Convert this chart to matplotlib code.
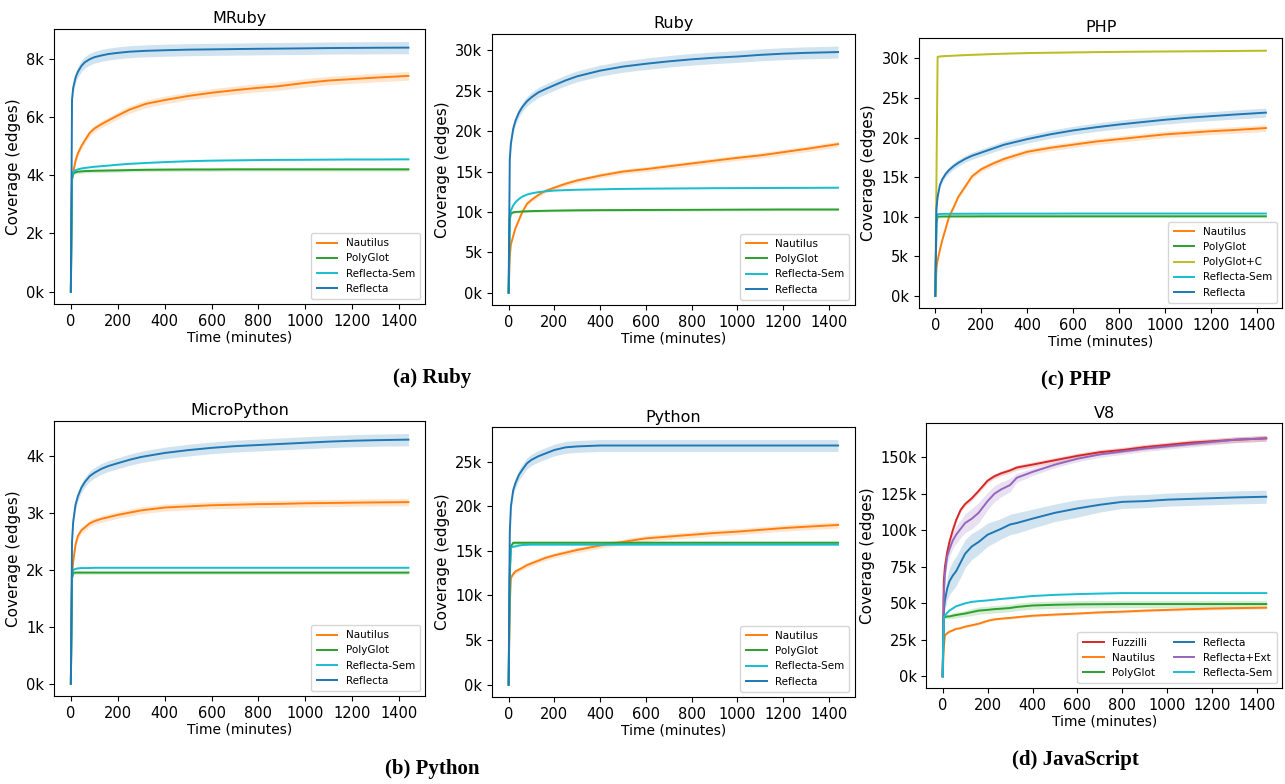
import matplotlib
matplotlib.use("Agg")
import matplotlib.pyplot as plt
from matplotlib.ticker import FuncFormatter, MultipleLocator
import numpy as np

# ---------------- data ----------------
# MRuby
mruby_t = [0, 5, 10, 20, 30, 45, 60, 80, 100, 130, 160, 200, 250, 320, 400, 500, 600, 700, 800, 880, 1000, 1100, 1200, 1300, 1440]
mruby_reflecta = [0, 6600, 7000, 7350, 7550, 7750, 7880, 7980, 8050, 8110, 8160, 8200, 8240, 8270, 8290, 8310, 8320, 8330, 8340, 8345, 8355, 8365, 8370, 8375, 8380]
mruby_nautilus = [0, 3800, 4100, 4500, 4750, 5000, 5200, 5450, 5600, 5750, 5880, 6050, 6250, 6450, 6580, 6720, 6830, 6920, 7000, 7050, 7170, 7250, 7300, 7350, 7410]
mruby_sem = [0, 3900, 4100, 4170, 4200, 4230, 4250, 4270, 4290, 4310, 4330, 4360, 4390, 4420, 4450, 4480, 4500, 4510, 4520, 4525, 4530, 4535, 4540, 4540, 4545]
mruby_polyglot = [0, 3900, 4050, 4100, 4120, 4130, 4140, 4145, 4150, 4155, 4160, 4165, 4175, 4185, 4190, 4195, 4195, 4200, 4200, 4200, 4200, 4200, 4200, 4200, 4200]

# Ruby
ruby_t = [0, 5, 10, 20, 30, 45, 60, 80, 100, 130, 160, 200, 250, 300, 400, 500, 600, 700, 800, 900, 1000, 1100, 1200, 1300, 1440]
ruby_reflecta = [0, 16500, 18500, 20300, 21300, 22300, 23000, 23700, 24200, 24800, 25200, 25700, 26300, 26800, 27500, 28000, 28350, 28650, 28900, 29100, 29250, 29450, 29600, 29700, 29800]
ruby_nautilus = [0, 4500, 6000, 7000, 8000, 9000, 10000, 11000, 11500, 12100, 12600, 13000, 13500, 13900, 14500, 15000, 15300, 15650, 16000, 16350, 16700, 17000, 17400, 17800, 18400]
ruby_sem = [0, 9500, 10200, 10800, 11200, 11600, 11900, 12150, 12300, 12450, 12550, 12650, 12700, 12750, 12800, 12850, 12880, 12900, 12920, 12940, 12950, 12960, 12970, 12980, 13000]
ruby_polyglot = [0, 9000, 9800, 9950, 10000, 10020, 10050, 10080, 10100, 10120, 10140, 10160, 10180, 10200, 10220, 10230, 10240, 10250, 10260, 10270, 10280, 10290, 10300, 10300, 10300]

# PHP
php_t = [0, 5, 10, 20, 30, 45, 60, 80, 100, 130, 160, 200, 250, 300, 400, 500, 600, 700, 800, 900, 1000, 1100, 1200, 1300, 1440]
php_polyglot_c = [0, 15000, 30200, 30250, 30280, 30300, 30320, 30350, 30380, 30420, 30450, 30500, 30550, 30600, 30680, 30720, 30760, 30800, 30830, 30860, 30880, 30900, 30920, 30940, 30980]
php_reflecta = [0, 11000, 12500, 14000, 14700, 15400, 15900, 16400, 16800, 17300, 17700, 18100, 18600, 19100, 19800, 20400, 20900, 21300, 21650, 21950, 22250, 22500, 22700, 22900, 23150]
php_nautilus = [0, 3500, 4500, 5800, 7000, 8500, 10000, 11200, 12500, 13800, 15100, 16000, 16700, 17300, 18200, 18700, 19100, 19500, 19800, 20100, 20400, 20600, 20800, 20950, 21200]
php_sem = [0, 9500, 10300, 10350, 10350, 10360, 10360, 10370, 10370, 10370, 10380, 10380, 10380, 10390, 10390, 10390, 10400, 10400, 10400, 10400, 10400, 10400, 10400, 10400, 10400]
php_polyglot = [0, 9200, 10000, 10020, 10030, 10030, 10030, 10040, 10040, 10040, 10040, 10050, 10050, 10050, 10050, 10050, 10050, 10050, 10050, 10050, 10050, 10050, 10050, 10050, 10050]

# MicroPython
mpy_t = [0, 5, 10, 20, 30, 45, 60, 80, 100, 130, 160, 200, 250, 300, 400, 500, 600, 700, 800, 900, 1000, 1100, 1200, 1300, 1440]
mpy_reflecta = [0, 2500, 2850, 3150, 3300, 3450, 3550, 3650, 3710, 3780, 3830, 3880, 3940, 3990, 4060, 4110, 4150, 4180, 4200, 4220, 4240, 4260, 4275, 4285, 4295]
mpy_nautilus = [0, 1900, 2150, 2450, 2600, 2700, 2750, 2820, 2860, 2900, 2930, 2970, 3010, 3050, 3100, 3120, 3140, 3150, 3160, 3165, 3175, 3180, 3185, 3190, 3195]
mpy_sem = [0, 1900, 2000, 2020, 2030, 2035, 2035, 2035, 2040, 2040, 2040, 2040, 2040, 2040, 2040, 2040, 2040, 2040, 2040, 2040, 2040, 2040, 2040, 2040, 2040]
mpy_polyglot = [0, 1850, 1950, 1955, 1955, 1955, 1955, 1955, 1955, 1955, 1955, 1955, 1955, 1955, 1955, 1955, 1955, 1955, 1955, 1955, 1955, 1955, 1955, 1955, 1955]

# Python
py_t = [0, 5, 10, 20, 30, 45, 60, 80, 100, 130, 160, 200, 250, 300, 400, 500, 600, 700, 800, 900, 1000, 1100, 1200, 1300, 1440]
py_reflecta = [0, 17000, 20000, 21800, 22600, 23500, 24100, 24800, 25200, 25600, 25900, 26300, 26600, 26700, 26800, 26800, 26800, 26800, 26800, 26800, 26800, 26800, 26800, 26800, 26800]
py_nautilus = [0, 9000, 12000, 12400, 12700, 12900, 13100, 13400, 13600, 13900, 14200, 14500, 14800, 15100, 15600, 16000, 16400, 16600, 16800, 17000, 17150, 17350, 17550, 17700, 17900]
py_polyglot = [0, 12000, 15500, 15900, 15900, 15900, 15900, 15900, 15900, 15900, 15900, 15900, 15900, 15900, 15900, 15900, 15900, 15900, 15900, 15900, 15900, 15900, 15900, 15900, 15900]
py_sem = [0, 13000, 15400, 15450, 15500, 15600, 15650, 15680, 15700, 15700, 15700, 15700, 15700, 15700, 15700, 15700, 15700, 15700, 15700, 15700, 15700, 15700, 15700, 15700, 15700]

# V8
v8_t = [0, 5, 10, 20, 30, 45, 60, 80, 100, 130, 160, 200, 230, 260, 300, 330, 400, 500, 600, 700, 800, 900, 1000, 1100, 1200, 1300, 1440]
v8_fuzzilli = [0, 65000, 75000, 85000, 92000, 100000, 107000, 114000, 118000, 122000, 127000, 134000, 137000, 139000, 141000, 143000, 145000, 148000, 151000, 153500, 155000, 157000, 158500, 160000, 161000, 162000, 163000]
v8_ext = [0, 55000, 70000, 82000, 87000, 93000, 97000, 101000, 105000, 108000, 112000, 120000, 125000, 128000, 131000, 136000, 140000, 145000, 149000, 152000, 154000, 156000, 157500, 159000, 160500, 162000, 163000]
v8_reflecta = [0, 45000, 52000, 60000, 65000, 69000, 72000, 78000, 84000, 89000, 92000, 97000, 99000, 101000, 104000, 105000, 108000, 112000, 115000, 117500, 119500, 120000, 121000, 121500, 122000, 122500, 123000]
v8_sem = [0, 40000, 41500, 43500, 45000, 46500, 48000, 49000, 50000, 51000, 51500, 52000, 52500, 53000, 53500, 54000, 55000, 55800, 56300, 56700, 57000, 57000, 57000, 57000, 57000, 57000, 57000]
v8_polyglot = [0, 40000, 40500, 41000, 41000, 41500, 42000, 42500, 43000, 44000, 45000, 45500, 46000, 46300, 46800, 47500, 48500, 49000, 49300, 49400, 49500, 49500, 49500, 49500, 49500, 49500, 49500]
v8_nautilus = [0, 20000, 28000, 29500, 30500, 31500, 32500, 33000, 34000, 35000, 36000, 38000, 39000, 39500, 40000, 40500, 41500, 42300, 43000, 43800, 44300, 45000, 45500, 46000, 46400, 46700, 47000]
# V8 standard deviations that vary over time
v8_reflecta_sd = [0, 4000, 6000, 8000, 9000, 10000, 10000, 10000, 9500, 9000, 8500, 8000, 7500, 7000, 7000, 7000, 6500, 6000, 6000, 5000, 4500, 4500, 4500, 4500, 4500, 4500, 4500]
v8_ext_sd = [0, 3000, 4000, 5000, 5000, 5500, 6000, 6000, 6500, 7000, 7000, 6000, 5500, 5000, 4500, 3000, 2500, 2000, 2000, 2000, 2000, 2000, 2000, 2000, 2000, 2000, 2000]
v8_polyglot_sd = [0, 1000, 1000, 1500, 1500, 2000, 2000, 2000, 2000, 2500, 2500, 2500, 2500, 2500, 2500, 2500, 2500, 2500, 2500, 2500, 2500, 2500, 2500, 2500, 2500, 2500, 2500]

# band half-widths (std) as a fraction of the value, default per method
band_frac = {"Nautilus": 0.02, "PolyGlot": 0.015, "PolyGlot+C": 0.003, "Reflecta-Sem": 0.005,
             "Reflecta": 0.025, "Fuzzilli": 0.012, "Reflecta+Ext": 0.015}

colors = {"Nautilus": "#ff7f0e", "PolyGlot": "#2ca02c", "PolyGlot+C": "#bcbd22",
          "Reflecta-Sem": "#17becf", "Reflecta": "#1f77b4", "Fuzzilli": "#d62728",
          "Reflecta+Ext": "#9467bd"}

# (title, time, [(name, values, sd or None)], axes rect, ytick step, legend columns)
panels = [
    ("MRuby", mruby_t, [("Nautilus", mruby_nautilus, None), ("PolyGlot", mruby_polyglot, None),
                        ("Reflecta-Sem", mruby_sem, None), ("Reflecta", mruby_reflecta, None)],
     [0.042, 0.612, 0.289, 0.351], 2000, 1),
    ("Ruby", ruby_t, [("Nautilus", ruby_nautilus, None), ("PolyGlot", ruby_polyglot, None),
                      ("Reflecta-Sem", ruby_sem, None), ("Reflecta", ruby_reflecta, None)],
     [0.383, 0.611, 0.282, 0.346], 5000, 1),
    ("PHP", php_t, [("Nautilus", php_nautilus, None), ("PolyGlot", php_polyglot, None),
                    ("PolyGlot+C", php_polyglot_c, None), ("Reflecta-Sem", php_sem, None),
                    ("Reflecta", php_reflecta, None)],
     [0.715, 0.607, 0.283, 0.345], 5000, 1),
    ("MicroPython", mpy_t, [("Nautilus", mpy_nautilus, None), ("PolyGlot", mpy_polyglot, None),
                            ("Reflecta-Sem", mpy_sem, None), ("Reflecta", mpy_reflecta, None)],
     [0.042, 0.112, 0.289, 0.351], 1000, 1),
    ("Python", py_t, [("Nautilus", py_nautilus, None), ("PolyGlot", py_polyglot, None),
                      ("Reflecta-Sem", py_sem, None), ("Reflecta", py_reflecta, None)],
     [0.383, 0.111, 0.282, 0.344], 5000, 1),
    ("V8", v8_t, [("Fuzzilli", v8_fuzzilli, None), ("Nautilus", v8_nautilus, None),
                  ("PolyGlot", v8_polyglot, v8_polyglot_sd), ("Reflecta", v8_reflecta, v8_reflecta_sd),
                  ("Reflecta+Ext", v8_ext, v8_ext_sd), ("Reflecta-Sem", v8_sem, None)],
     [0.721, 0.122, 0.277, 0.338], 25000, 2),
]

captions = [("(a) Ruby", 0.336, 0.518), ("(c) PHP", 0.837, 0.515),
            ("(b) Python", 0.336, 0.019), ("(d) JavaScript", 0.837, 0.031)]

fig = plt.figure(figsize=(12.85, 7.84), dpi=100)
kfmt = FuncFormatter(lambda v, p: f"{int(round(v / 1000))}k")

for title, t, series, rect, ystep, ncol in panels:
    ax = fig.add_axes(rect)
    t = np.asarray(t, dtype=float)
    for name, vals, sd in series:
        v = np.asarray(vals, dtype=float)
        s = np.asarray(sd, dtype=float) if sd is not None else v * band_frac[name]
        ax.fill_between(t, v - s, v + s, color=colors[name], alpha=0.2, linewidth=0)
        ax.plot(t, v, color=colors[name], linewidth=1.4, label=name)
    ax.set_title(title, fontsize=11.5, pad=4)
    ax.set_xlabel("Time (minutes)", fontsize=10, labelpad=1)
    ax.set_ylabel("Coverage (edges)", fontsize=11)
    ax.yaxis.set_major_locator(MultipleLocator(ystep))
    ax.yaxis.set_major_formatter(kfmt)
    ax.xaxis.set_major_locator(MultipleLocator(200))
    ax.tick_params(labelsize=10.5)
    ax.legend(loc="lower right", fontsize=7.5, ncol=ncol, handlelength=2.0,
              columnspacing=1.8, borderpad=0.5)

for text, x, y in captions:
    fig.text(x, y, text, ha="center", va="center", fontsize=15, fontweight="bold",
             family="Liberation Serif")

fig.savefig("out.png", dpi=100)
